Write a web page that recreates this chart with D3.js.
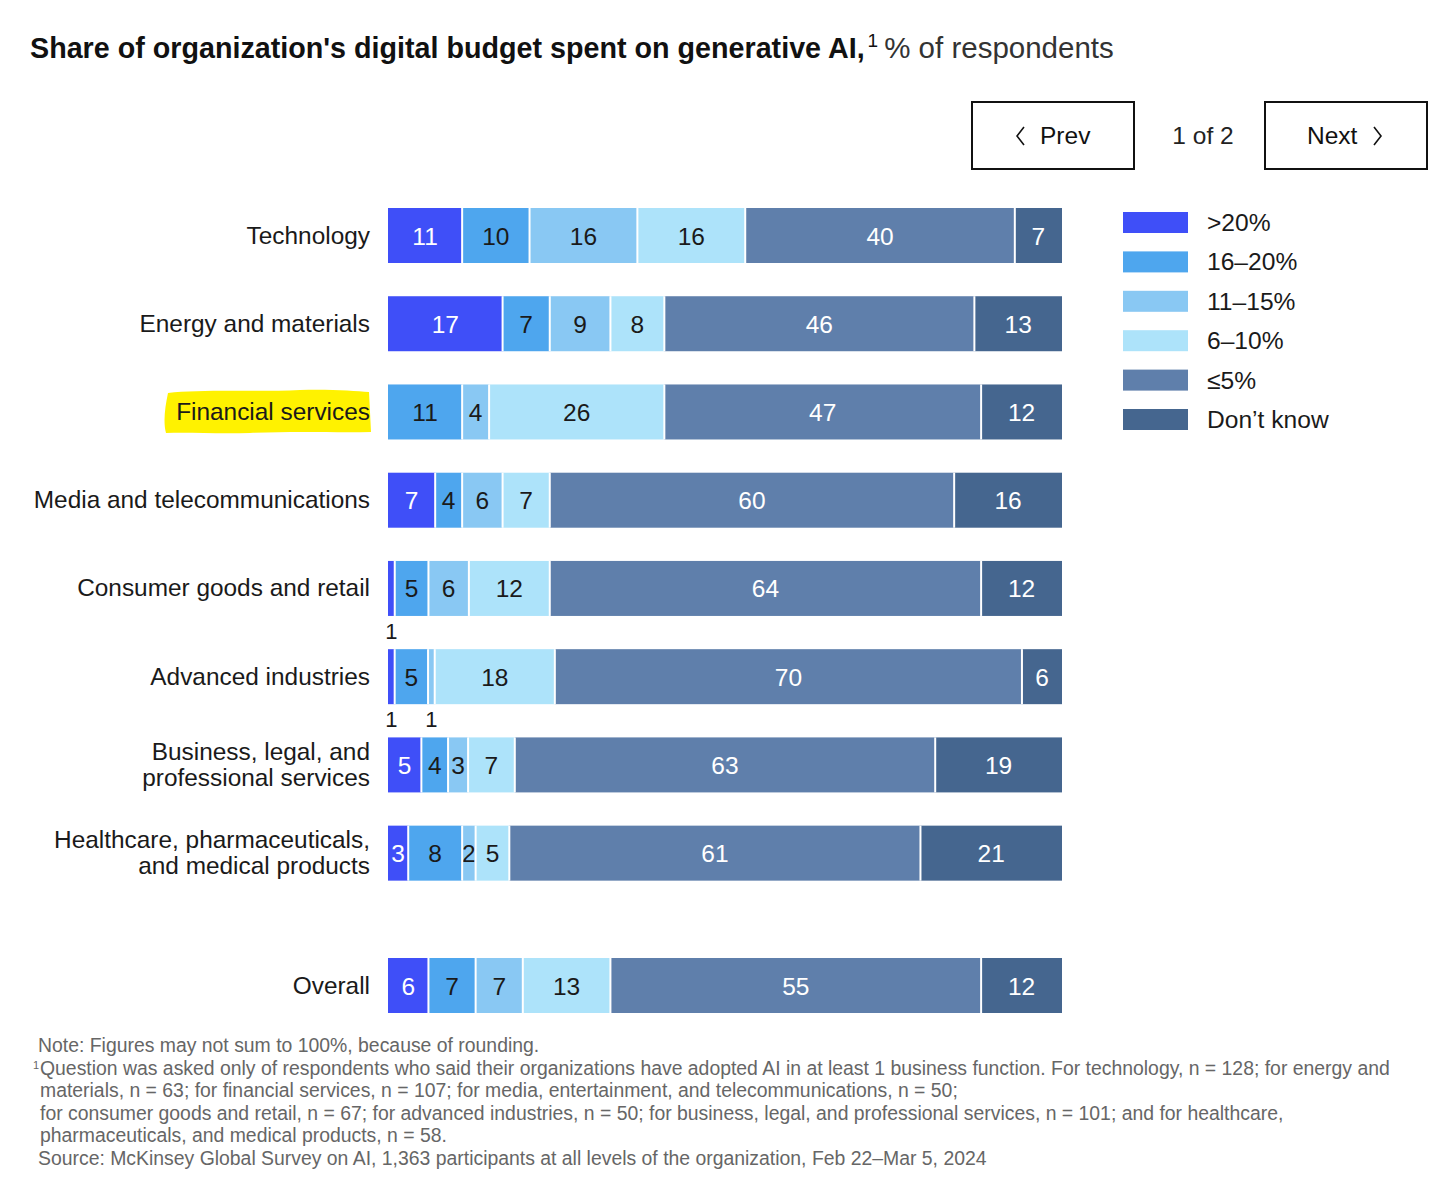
<!DOCTYPE html>
<html>
<head>
<meta charset="utf-8">
<script src="https://cdn.jsdelivr.net/npm/d3@7"></script>
<style>
  html, body { margin: 0; padding: 0; background: #fff; }
  svg { display: block; font-family: "Liberation Sans", Arial, sans-serif; }
</style>
</head>
<body>
<svg id="chart" width="1456" height="1193"></svg>
<script>
// ---- data ----
const categories = [
  "Technology",
  "Energy and materials",
  "Financial services",
  "Media and telecommunications",
  "Consumer goods and retail",
  "Advanced industries",
  "Business, legal, and|professional services",
  "Healthcare, pharmaceuticals,|and medical products",
  "Overall"
];
const rowIndex = [0, 1, 2, 3, 4, 5, 6, 7, 8.5];
const seriesNames = [">20%", "16–20%", "11–15%", "6–10%", "≤5%", "Don’t know"];
const over20     = [11, 17, 0, 7, 1, 1, 5, 3, 6];
const from16to20 = [10, 7, 11, 4, 5, 5, 4, 8, 7];
const from11to15 = [16, 9, 4, 6, 6, 1, 3, 2, 7];
const from6to10  = [16, 8, 26, 7, 12, 18, 7, 5, 13];
const upTo5      = [40, 46, 47, 60, 64, 70, 63, 61, 55];
const dontKnow   = [7, 13, 12, 16, 12, 6, 19, 21, 12];
const seriesValues = [over20, from16to20, from11to15, from6to10, upTo5, dontKnow];
const colors = ["#3f4ff8", "#4ea6ee", "#89c8f3", "#ade3fa", "#5f7fab", "#45668f"];
const labelColors = ["#fff", "#1a1a1a", "#1a1a1a", "#1a1a1a", "#fff", "#fff"];

// ---- layout ----
const svg = d3.select("#chart");
const barLeft = 388, barRight = 1062, barH = 55;
const y = d3.scaleLinear().domain([0, 8.5]).range([208, 958]);

// title
const title = svg.append("text").attr("x", 30).attr("y", 58).attr("fill", "#111");
title.append("tspan").attr("font-weight", "bold").attr("font-size", 28.7)
  .text("Share of organization's digital budget spent on generative AI,");
title.append("tspan").attr("font-size", 19).attr("dy", -11).attr("dx", 3).text("1");
title.append("tspan").attr("font-size", 29.5).attr("dy", 11).attr("dx", 6).attr("fill", "#333")
  .text("% of respondents");

// nav buttons
function button(x, w) {
  svg.append("rect").attr("x", x).attr("y", 102).attr("width", w).attr("height", 67)
    .attr("fill", "#fff").attr("stroke", "#111").attr("stroke-width", 2);
}
button(972, 162);
button(1265, 162);
svg.append("path").attr("d", "M1024,127 L1017,136 L1024,145").attr("fill", "none").attr("stroke", "#111").attr("stroke-width", 1.6);
svg.append("text").attr("x", 1040).attr("y", 144).attr("font-size", 24.5).attr("fill", "#111").text("Prev");
svg.append("text").attr("x", 1203).attr("y", 144).attr("font-size", 24.5).attr("fill", "#222").attr("text-anchor", "middle").text("1 of 2");
svg.append("text").attr("x", 1307).attr("y", 144).attr("font-size", 24.5).attr("fill", "#111").text("Next");
svg.append("path").attr("d", "M1374,127 L1381,136 L1374,145").attr("fill", "none").attr("stroke", "#111").attr("stroke-width", 1.6);

// highlight behind "Financial services"
const fy = y(2) + barH / 2;
svg.append("path")
  .attr("d", `M168,${fy-19} C200,${fy-23} 260,${fy-20} 300,${fy-22} C330,${fy-23} 355,${fy-21} 369,${fy-20}
              L371,${fy+20} C340,${fy+21} 300,${fy+19} 250,${fy+21} C215,${fy+22} 190,${fy+20} 166,${fy+21}
              C163,${fy+10} 165,${fy-5} 168,${fy-19} Z`)
  .attr("fill", "#fff200");

// rows
categories.forEach((cat, r) => {
  const vals = seriesValues.map(s => s[r]);
  const total = d3.sum(vals);
  const x = d3.scaleLinear().domain([0, total]).range([barLeft, barRight]);
  const top = y(rowIndex[r]);
  const cy = top + barH / 2;
  let cum = 0;
  const g = svg.append("g");
  vals.forEach((v, i) => {
    const x0 = x(cum), x1 = x(cum + v);
    cum += v;
    if (v <= 0) return;
    g.append("rect").attr("x", x0).attr("y", top).attr("width", x1 - x0).attr("height", barH)
      .attr("fill", colors[i]);
    if (v >= 2) {
      g.append("text").attr("x", (x0 + x1) / 2).attr("y", cy + 9)
        .attr("text-anchor", "middle").attr("font-size", 24.5).attr("fill", labelColors[i])
        .text(v);
    } else {
      g.append("text").attr("x", (x0 + x1) / 2).attr("y", top + barH + 23)
        .attr("text-anchor", "middle").attr("font-size", 22).attr("fill", "#1a1a1a")
        .text(v);
    }
  });
  // separators
  cum = 0;
  vals.forEach((v, i) => {
    cum += v;
    if (i < vals.length - 1 && v > 0) {
      g.append("line").attr("x1", x(cum)).attr("x2", x(cum)).attr("y1", top).attr("y2", top + barH)
        .attr("stroke", "#fff").attr("stroke-width", 2);
    }
  });
  // category label
  const lines = cat.split("|");
  const t = svg.append("text").attr("x", 370).attr("text-anchor", "end")
    .attr("font-size", 24.4).attr("fill", "#1a1a1a");
  lines.forEach((ln, k) => {
    t.append("tspan").attr("x", 370)
      .attr("y", cy + 8 + (k - (lines.length - 1) / 2) * 26)
      .text(ln);
  });
});

// legend
seriesNames.forEach((name, i) => {
  const ly = 212 + i * 39.4;
  svg.append("rect").attr("x", 1123).attr("y", ly).attr("width", 65).attr("height", 21).attr("fill", colors[i]);
  svg.append("text").attr("x", 1207).attr("y", ly + 19).attr("font-size", 24.6).attr("fill", "#1a1a1a").text(name);
});

// footnotes
const notes = [
  { x: 38, t: "Note: Figures may not sum to 100%, because of rounding." },
  { x: 40, t: "Question was asked only of respondents who said their organizations have adopted AI in at least 1 business function. For technology, n = 128; for energy and", sup: true },
  { x: 40, t: "materials, n = 63; for financial services, n = 107; for media, entertainment, and telecommunications, n = 50;" },
  { x: 40, t: "for consumer goods and retail, n = 67; for advanced industries, n = 50; for business, legal, and professional services, n = 101; and for healthcare," },
  { x: 40, t: "pharmaceuticals, and medical products, n = 58." },
  { x: 38, t: "Source: McKinsey Global Survey on AI, 1,363 participants at all levels of the organization, Feb 22–Mar 5, 2024" }
];
notes.forEach((n, i) => {
  const ny = 1052 + i * 22.6;
  if (n.sup) {
    svg.append("text").attr("x", 33).attr("y", ny - 6).attr("font-size", 11).attr("fill", "#666").text("1");
  }
  svg.append("text").attr("x", n.x).attr("y", ny).attr("font-size", 19.4).attr("fill", "#666").text(n.t);
});
</script>
</body>
</html>
